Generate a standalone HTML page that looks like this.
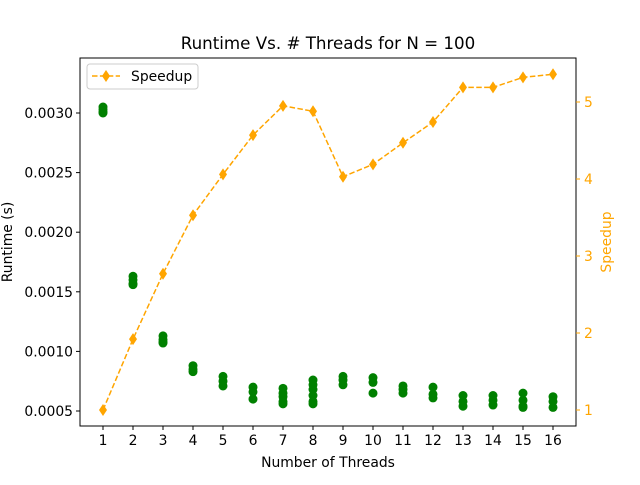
<!DOCTYPE html>
<html><head><meta charset="utf-8"><style>
body{margin:0;background:#fff;font-family:"Liberation Sans","DejaVu Sans",sans-serif;}
svg text{font-family:"DejaVu Sans","Liberation Sans",sans-serif;}
</style></head><body>
<svg id="c" width="640" height="480" xmlns="http://www.w3.org/2000/svg"></svg>
<script>
const threads=[1,2,3,4,5,6,7,8,9,10,11,12,13,14,15,16];
const runtimes=[
[0.00305,0.00303,0.00301,0.00300],
[0.00163,0.00160,0.00157,0.00156],
[0.00113,0.00110,0.00108,0.00107],
[0.00088,0.00085,0.00083],
[0.00079,0.00075,0.00071],
[0.00070,0.00066,0.00060],
[0.00069,0.00065,0.00062,0.00058,0.00056],
[0.00076,0.00072,0.00068,0.00063,0.00058,0.00056],
[0.00079,0.00076,0.00072],
[0.00078,0.00074,0.00065],
[0.00071,0.00068,0.00065],
[0.00070,0.00064,0.00061],
[0.00063,0.00058,0.00054],
[0.00063,0.00059,0.00055],
[0.00065,0.00059,0.00054,0.00053],
[0.00062,0.00058,0.00053]];
const speedup=[1.0,1.92,2.77,3.53,4.06,4.57,4.95,4.88,4.03,4.19,4.47,4.74,5.19,5.19,5.32,5.36];
const leftTicks=[0.0005,0.0010,0.0015,0.0020,0.0025,0.0030];
const rightTicks=[1,2,3,4,5];

const NS="http://www.w3.org/2000/svg",svg=document.getElementById('c');
const L=80,R=576,T=58,B=426;
const x=t=>103+(t-1)*30;
const yl=v=>411-(v-0.0005)/0.0005*59.6;
const yr=v=>410-(v-1)*77;
function el(tag,a,txt){const e=document.createElementNS(NS,tag);for(const k in a)e.setAttribute(k,a[k]);if(txt!==undefined)e.textContent=txt;svg.appendChild(e);return e;}

let e;
e=el('rect',{x:L,y:T,width:R-L,height:B-T,fill:'#fff'});



runtimes.forEach((arr,i)=>arr.forEach(v=>{
 e=el('circle',{cx:x(threads[i]),cy:yl(v),r:4.5,fill:'green'});
 
 
}));

e=el('polyline',{points:speedup.map((s,i)=>x(threads[i])+','+yr(s)).join(' '),fill:'none',stroke:'orange','stroke-width':1.5,'stroke-dasharray':'5.5,2.4'});


speedup.forEach((s,i)=>{const cx=x(threads[i]),cy=yr(s);
 e=el('polygon',{points:`${cx},${cy-6} ${cx+4},${cy} ${cx},${cy+6} ${cx-4},${cy}`,fill:'orange'});
 
 
});

e=el('rect',{x:L,y:T,width:R-L,height:B-T,fill:'none',stroke:'#000','stroke-width':1});



threads.forEach(t=>{
 el('line',{x1:x(t),x2:x(t),y1:B,y2:B+4,stroke:'#000'});
 e=el('text',{x:x(t),y:B+19,'font-size':13.9,'text-anchor':'middle'},t);
 
 
});
leftTicks.forEach(v=>{
 el('line',{x1:L-4,x2:L,y1:yl(v),y2:yl(v),stroke:'#000'});
 e=el('text',{x:L-7,y:yl(v)+5,'font-size':13.9,'text-anchor':'end'},v.toFixed(4));
 
 
});
rightTicks.forEach(v=>{
 el('line',{x1:R,x2:R+4,y1:yr(v),y2:yr(v),stroke:'orange'});
 e=el('text',{x:R+8,y:yr(v)+5,'font-size':13.9,fill:'orange'},v);
 
 
});
e=el('text',{x:328,y:49,'font-size':16.7,'text-anchor':'middle'},'Runtime Vs. # Threads for N = 100');


e=el('text',{x:328,y:467,'font-size':13.9,'text-anchor':'middle'},'Number of Threads');


e=el('text',{x:0,y:0,'font-size':13.9,'text-anchor':'middle',transform:'translate(12,242) rotate(-90)'},'Runtime (s)');


e=el('text',{x:0,y:0,'font-size':13.9,'text-anchor':'middle',fill:'orange',transform:'translate(611,242) rotate(-90)'},'Speedup');



e=el('rect',{x:87,y:64,width:111,height:25,rx:3,fill:'#fff',stroke:'#ccc'});


el('line',{x1:92,x2:120,y1:76,y2:76,stroke:'orange','stroke-width':1.5,'stroke-dasharray':'5.5,2.4'});
el('polygon',{points:'106,70 110,76 106,82 102,76',fill:'orange'});
e=el('text',{x:131,y:81,'font-size':13.9},'Speedup');


</script>
</body></html>
